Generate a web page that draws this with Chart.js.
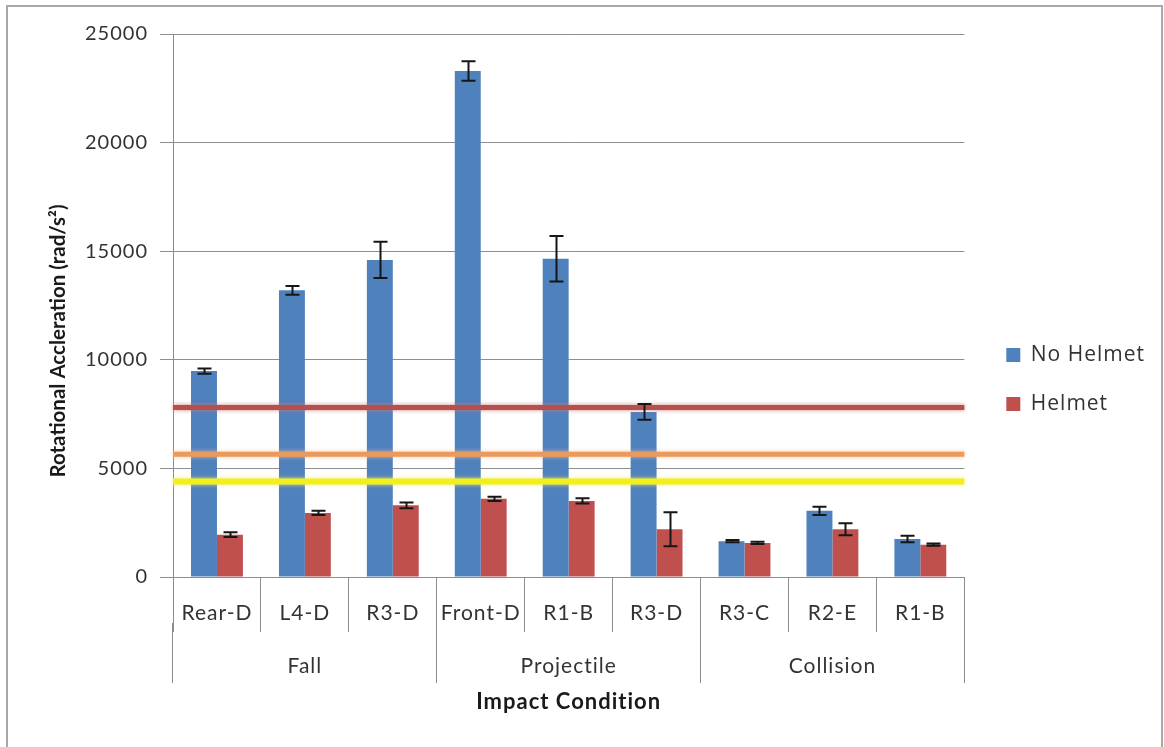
<!DOCTYPE html>
<html>
<head>
<meta charset="utf-8">
<script src="https://cdn.jsdelivr.net/npm/chart.js@4/dist/chart.umd.min.js"></script>
<style>
  html, body { margin: 0; padding: 0; background: #fff; }
  canvas { position: absolute; left: 0; top: 0; }
  #frame { position: absolute; left: 6px; top: 5px; width: 1157px; height: 744px;
           border: 2px solid #a9a9a9; box-sizing: border-box; pointer-events: none; }
</style>
</head>
<body>
<canvas id="chart" width="1164" height="747"></canvas>
<div id="frame"></div>
<script>
// Impact conditions, grouped by impact type
const categories = ['Rear-D', 'L4-D', 'R3-D', 'Front-D', 'R1-B', 'R3-D', 'R3-C', 'R2-E', 'R1-B'];
const groups = ['Fall', 'Projectile', 'Collision'];

// Mean rotational acceleration (rad/s^2) and error half-widths
const noHelmet    = [9480, 13200, 14600, 23300, 14650, 7600, 1650, 3050, 1750];
const noHelmetErr = [125, 200, 830, 450, 1050, 360, 50, 190, 150];
const helmet      = [1950, 2950, 3300, 3600, 3500, 2200, 1570, 2200, 1490];
const helmetErr   = [110, 100, 130, 100, 120, 780, 50, 280, 50];

// Injury threshold levels (rad/s^2)
const thresholds = [7800, 5650, 4400];

// Y axis ticks
const yTicks = [0, 5000, 10000, 15000, 20000, 25000];

const FONT = 'Lato, Carlito, Calibri, "Open Sans", sans-serif';
Chart.defaults.font.family = FONT;
Chart.defaults.color = '#333';
const GRID = '#8e8e8e';

const thresholdStyles = [
  { color: '#b6504d', glow: 'rgba(205,120,118,0.9)', width: 5 },
  { color: '#ea9a5c', glow: 'rgba(246,190,150,0.9)', width: 5 },
  { color: '#f2ef1c', glow: 'rgba(238,236,120,0.9)', width: 6 }
];

// Error bars drawn through the y scale for both bar series
const errorBars = {
  id: 'errorBars',
  afterDatasetsDraw(chart) {
    const ctx = chart.ctx;
    const y = chart.scales.y;
    [[noHelmet, noHelmetErr], [helmet, helmetErr]].forEach(([vals, errs], di) => {
      const meta = chart.getDatasetMeta(di);
      meta.data.forEach((bar, i) => {
        const x = Math.round(bar.x) + 0.5;
        const yt = y.getPixelForValue(vals[i] + errs[i]);
        const yb = y.getPixelForValue(vals[i] - errs[i]);
        ctx.save();
        ctx.strokeStyle = '#161616';
        ctx.lineWidth = 2;
        ctx.beginPath();
        ctx.moveTo(x, yt); ctx.lineTo(x, yb);
        ctx.moveTo(x - 7, yt); ctx.lineTo(x + 7, yt);
        ctx.moveTo(x - 7, yb); ctx.lineTo(x + 7, yb);
        ctx.stroke();
        ctx.restore();
      });
    });
  }
};

// Soft glow around the threshold lines
const lineGlow = {
  id: 'lineGlow',
  beforeDatasetDraw(chart, args) {
    const ds = chart.data.datasets[args.index];
    if (ds.type !== 'line') return;
    chart.ctx.save();
    chart.ctx.shadowColor = ds.glowColor;
    chart.ctx.shadowBlur = 4;
  },
  afterDatasetDraw(chart, args) {
    const ds = chart.data.datasets[args.index];
    if (ds.type !== 'line') return;
    chart.ctx.restore();
  }
};

// Gap between plot area and legend
const legendGap = {
  id: 'legendGap',
  afterLayout(chart) {
    chart.legend.left += 14;
    chart.legend.right += 14;
  }
};

// Wider text tracking and the rotated y axis title
const textStyle = {
  id: 'textStyle',
  beforeUpdate(chart) { chart.ctx.letterSpacing = '1px'; },
  beforeDraw(chart) { chart.ctx.letterSpacing = '1px'; },
  afterDraw(chart) {
    const ctx = chart.ctx;
    ctx.save();
    ctx.letterSpacing = '0px';
    ctx.translate(58, 341);
    ctx.rotate(-Math.PI / 2);
    ctx.textAlign = 'center';
    ctx.textBaseline = 'middle';
    ctx.fillStyle = '#1a1a1a';
    ctx.font = 'bold 20.5px ' + FONT;
    ctx.fillText('Rotational Accleration (rad/s\u00B2)', 0, 0);
    ctx.restore();
  }
};

// Threshold lines run edge to edge of the category axis (index -0.5 .. n-0.5)
const lineStart = -0.5;
const lineEnd = categories.length - 0.5;

const datasets = [
  { label: 'No Helmet', data: noHelmet, backgroundColor: '#4f81bd', borderWidth: 0,
    categoryPercentage: 0.59, barPercentage: 1, order: 1 },
  { label: 'Helmet', data: helmet, backgroundColor: '#c0504d', borderWidth: 0,
    categoryPercentage: 0.59, barPercentage: 1, order: 1 }
].concat(thresholds.map((v, k) => ({
  type: 'line', label: 'threshold ' + (k + 1), parsing: false,
  data: [{ x: lineStart, y: v }, { x: lineEnd, y: v }],
  borderColor: thresholdStyles[k].color, borderWidth: thresholdStyles[k].width,
  glowColor: thresholdStyles[k].glow,
  pointRadius: 0, fill: false, order: 0
})));

new Chart(document.getElementById('chart'), {
  type: 'bar',
  data: { labels: categories, datasets },
  plugins: [errorBars, lineGlow, legendGap, textStyle],
  options: {
    responsive: false,
    animation: false,
    layout: { padding: { top: 34, right: 23, bottom: 22, left: 0 } },
    plugins: {
      tooltip: { enabled: false },
      legend: {
        position: 'right',
        align: 'center',
        labels: {
          boxWidth: 14, boxHeight: 14, padding: 28, color: '#333',
          font: { size: 21, family: '"Open Sans", ' + FONT },
          filter: item => item.datasetIndex < 2
        }
      }
    },
    scales: {
      y: {
        min: 0, max: 25000,
        afterFit: s => { s.width = 173; },
        afterBuildTicks: s => { s.ticks = yTicks.map(v => ({ value: v })); },
        ticks: { font: { size: 20 }, color: '#333', padding: 12, callback: v => String(v) },
        grid: { color: GRID, lineWidth: 1, tickLength: 13 },
        border: { color: GRID, width: 1 }
      },
      x: {
        weight: 0,
        afterFit: s => { s.height = 46; },
        ticks: { font: { size: 21 }, color: '#333', padding: -31, autoSkip: false, maxRotation: 0 },
        grid: { offset: true, drawOnChartArea: false, color: GRID, tickLength: 55 },
        border: { color: GRID, width: 1 }
      },
      x2: {
        type: 'category', position: 'bottom', weight: 1, labels: groups, offset: true,
        afterFit: s => { s.height = 102; },
        ticks: { font: { size: 21 }, color: '#333', padding: -29, autoSkip: false, maxRotation: 0 },
        grid: { offset: true, drawOnChartArea: false, color: GRID, tickLength: 60 },
        border: { display: false },
        title: { display: true, text: 'Impact Condition', color: '#1a1a1a',
                 font: { size: 22, weight: 'bold' }, padding: { top: 0, bottom: 10 } }
      }
    }
  }
});
</script>
</body>
</html>
